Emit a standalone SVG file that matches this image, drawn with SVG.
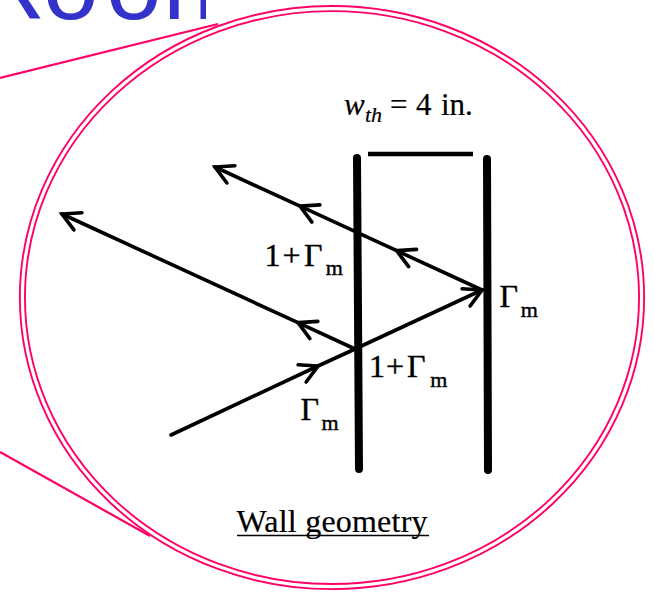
<svg xmlns="http://www.w3.org/2000/svg" width="654" height="594" viewBox="0 0 654 594">
  <defs>
    <style>
      .pink-outer { fill: none; stroke: #FF0066; stroke-width: 7; }
      .pink-inner { fill: none; stroke: #FFFFFF; stroke-width: 3.2; }
      .pink-line { fill: none; stroke: #FF0066; stroke-width: 2.2; }
      .wall { stroke: #000; stroke-width: 8; stroke-linecap: round; fill: none; }
      .ray { stroke: #000; stroke-width: 3.6; fill: none; stroke-linecap: round; }
      .lbl { font-family: "Liberation Serif", "Times New Roman", serif; font-size: 32px; fill: #000; stroke: #000; stroke-width: 0.4px; }
      .sub { font-size: 22px; }
      .title { font-family: "Liberation Sans", Arial, sans-serif; font-size: 100px; fill: #3333CC; }
    </style>
    <clipPath id="titleClip">
      <rect x="0" y="0" width="206" height="40"/>
    </clipPath>
    <marker id="chev" markerUnits="userSpaceOnUse" viewBox="-25 -15 30 30" markerWidth="30" markerHeight="30" refX="0" refY="0" orient="auto" overflow="visible">
      <path d="M-17.5,-9.5 L0,0 L-17.5,9.5" fill="none" stroke="#000" stroke-width="3.6" stroke-linecap="round" stroke-linejoin="miter"/>
    </marker>
  </defs>
  <rect width="654" height="594" fill="#FFFFFF"/>

  <g id="room-title" clip-path="url(#titleClip)">
    <text class="title" x="-27 43 106 163" y="19">Room</text>
  </g>

  <g id="zoom-callout">
    <line class="pink-line" x1="0" y1="78" x2="218" y2="24"/>
    <line class="pink-line" x1="0" y1="452" x2="150" y2="536"/>
    <ellipse class="pink-outer" cx="332" cy="297.6" rx="309.6" ry="289"/>
    <ellipse class="pink-inner" cx="332" cy="297.6" rx="309.6" ry="289"/>
  </g>

  <g id="wall-left">
    <line class="wall" x1="357" y1="158" x2="359" y2="469"/>
  </g>
  <g id="wall-right">
    <line class="wall" x1="487" y1="159" x2="488" y2="470"/>
  </g>
  <g id="thickness-bar">
    <line x1="368" y1="154" x2="473" y2="154" stroke="#000" stroke-width="4.3"/>
  </g>

  <g id="connectors">
    <path id="incident" class="ray" stroke-width="4" d="M171,435 L318,366 L355,349" marker-mid="url(#chev)"/>
    <path id="transmitted" class="ray" stroke-width="3" d="M355,349 L482,290" marker-end="url(#chev)"/>
    <path id="reflected-front" class="ray" d="M355,349 L298,322.7 L62,214" marker-mid="url(#chev)" marker-end="url(#chev)"/>
    <path id="reflected-back" class="ray" d="M482,290 L396.7,250.7 L300,206.2 L215,167" marker-mid="url(#chev)" marker-end="url(#chev)"/>
  </g>

  <g id="label-thickness">
    <text class="lbl" y="115" style="font-size:31px;stroke-width:0.2px"><tspan x="344" font-style="italic">w</tspan><tspan x="365" y="121.7" font-style="italic" style="font-size:22px">th</tspan><tspan x="390" y="115">=</tspan><tspan x="416">4</tspan><tspan x="441">in.</tspan></text>
  </g>

  <g id="label-trans-upper">
    <text class="lbl" x="264.5 282.5 304" y="265.5">1+Γ<tspan class="sub" x="325.7" y="274.5">m</tspan></text>
  </g>
  <g id="label-trans-lower">
    <text class="lbl" x="369 386 407" y="377">1+Γ<tspan class="sub" x="430.3" y="387">m</tspan></text>
  </g>
  <g id="label-refl-front">
    <text class="lbl" x="300.5" y="420">Γ<tspan class="sub" x="321.5" y="430">m</tspan></text>
  </g>
  <g id="label-refl-back">
    <text class="lbl" x="499.5" y="307.3">Γ<tspan class="sub" x="520.7" y="317.3">m</tspan></text>
  </g>

  <g id="caption">
    <text class="lbl" style="stroke-width:0.2px" x="236.5" y="531.7" textLength="191" lengthAdjust="spacing">Wall geometry</text>
    <line x1="237" y1="535.5" x2="429" y2="535.5" stroke="#000" stroke-width="1.5"/>
  </g>
</svg>
